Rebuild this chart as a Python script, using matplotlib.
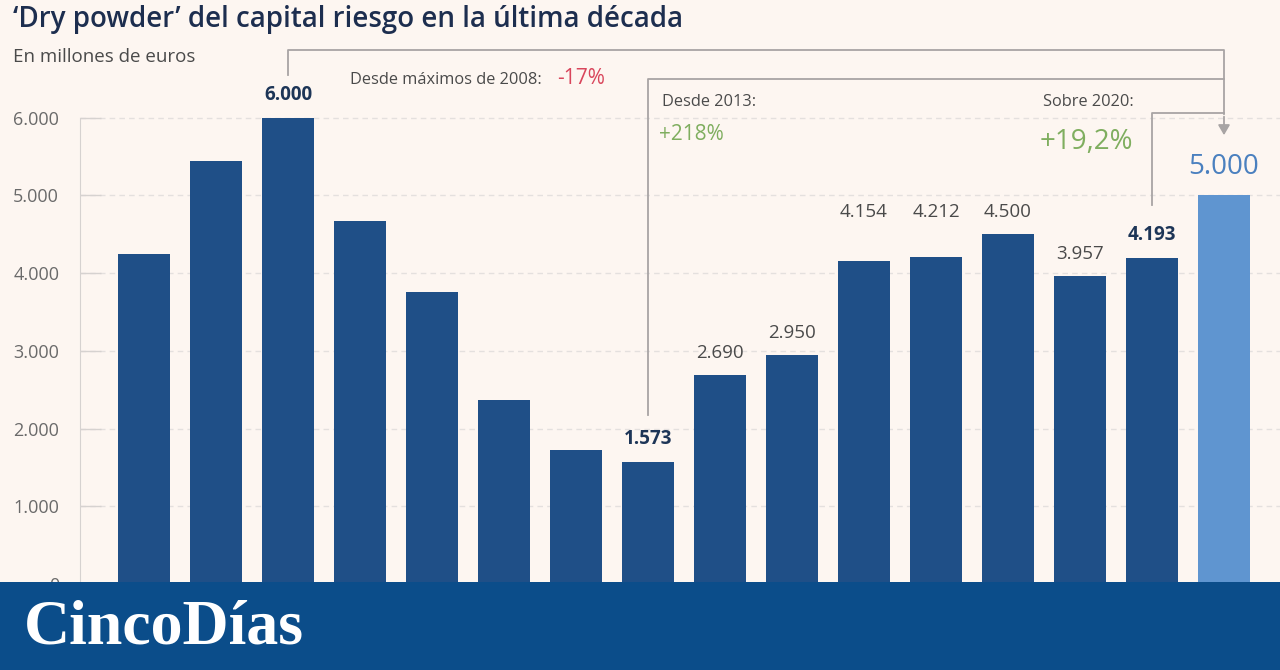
import matplotlib

matplotlib.use("Agg")
import matplotlib.pyplot as plt
from matplotlib.patches import Rectangle

YEARS = list(range(2006, 2022))
VALUES = [4250, 5440, 6000, 4670, 3760, 2370, 1725, 1573, 2690, 2950,
          4154, 4212, 4500, 3957, 4193, 5000]
LABELLED = {2008: "6.000", 2013: "1.573", 2014: "2.690", 2015: "2.950",
            2016: "4.154", 2017: "4.212", 2018: "4.500", 2019: "3.957",
            2020: "4.193"}
BOLD_LABELS = {2008, 2013, 2020}
# labels of 2016-2018 sit on one line, at the height of the tallest of the three
ALIGNED_LABELS = {2016, 2017, 2018}
YTICKS = [0, 1000, 2000, 3000, 4000, 5000, 6000]
YTICK_LABELS = ["0", "1.000", "2.000", "3.000", "4.000", "5.000", "6.000"]

BG = "#fdf6f1"
NAVY = "#1f4f87"
LIGHT = "#5f95d0"
GREY_LINE = "#a8a4a4"
FONT = ["Open Sans", "DejaVu Sans"]

W, H = 1280, 670
fig = plt.figure(figsize=(W / 100, H / 100), dpi=100, facecolor=BG)

# axes placed in pixel terms: x=80..1280, y(top)=40..584
ax = fig.add_axes([80 / W, (H - 584) / H, 1200 / W, 544 / H])
ax.set_facecolor(BG)
ax.set_xlim(-64 / 72, 1136 / 72)
ax.set_ylim(0, 7000)

xs = list(range(len(YEARS)))
colors = [NAVY] * (len(YEARS) - 1) + [LIGHT]
ax.bar(xs, VALUES, width=52 / 72, color=colors, zorder=3)

aligned_top = max(v for y, v in zip(YEARS, VALUES) if y in ALIGNED_LABELS)
for x, year, value in zip(xs, YEARS, VALUES):
    if year in LABELLED:
        bold = year in BOLD_LABELS
        base = aligned_top if year in ALIGNED_LABELS else value
        ax.text(x, base + 170, LABELLED[year], ha="center", va="bottom",
                fontsize=13.5, family=FONT,
                fontweight="bold" if bold else "normal",
                color="#1d3557" if bold else "#4a4a4a", zorder=4)
ax.text(xs[-1], VALUES[-1] + 190, "5.000", ha="center", va="bottom",
        fontsize=20, family=FONT, color="#4a80bf", zorder=4)

ax.set_yticks(YTICKS)
ax.set_yticklabels(YTICK_LABELS, family=FONT, fontsize=13, color="#6a6a6a")
ax.set_xticks([])
ax.tick_params(axis="y", direction="in", length=15, width=1, color="#d6d2d0", pad=15)
for side in ("top", "right", "bottom"):
    ax.spines[side].set_visible(False)
ax.spines["left"].set_color("#d6d2d0")
ax.spines["left"].set_bounds(0, 6000)
ax.grid(axis="y", color="#e4e0de", linestyle=(0, (4, 3)), linewidth=1, zorder=0)

# connector brackets to the 2021 bar
line_kw = dict(color=GREY_LINE, linewidth=1.3, clip_on=False, zorder=2)
ax.plot([2, 2, 15, 15], [6550, 6873, 6873, 6050], **line_kw)
ax.plot([7, 7, 15], [2175, 6500, 6500], **line_kw)
ax.plot([14, 14, 15], [4878, 6062, 6062], **line_kw)
ax.annotate("", xy=(15, 5740), xytext=(15, 6050),
            arrowprops=dict(arrowstyle="-|>,head_width=0.35,head_length=0.6",
                            color=GREY_LINE, lw=1.3), annotation_clip=False)

# annotation texts
fig.text(350 / W, 1 - 80 / H, "Desde máximos de 2008:", family=FONT, fontsize=11.8,
         color="#4a4a4a", va="center")
fig.text(557 / W, 1 - 79 / H, "-17%", family=FONT, fontsize=15, color="#d9465c",
         va="center")
fig.text(662 / W, 1 - 102 / H, "Desde 2013:", family=FONT, fontsize=11.8,
         color="#4a4a4a", va="center")
fig.text(659 / W, 1 - 135 / H, "+218%", family=FONT, fontsize=15, color="#7fae5f",
         va="center")
fig.text(1134 / W, 1 - 102 / H, "Sobre 2020:", family=FONT, fontsize=11.8,
         color="#4a4a4a", va="center", ha="right")
fig.text(1133 / W, 1 - 142 / H, "+19,2%", family=FONT, fontsize=20, color="#7fae5f",
         va="center", ha="right")

# titles
fig.text(13 / W, 1 - 20 / H, "‘Dry powder’ del capital riesgo en la última década",
         family=FONT, fontsize=20, fontweight="semibold", color="#1d2e4f",
         va="center")
fig.text(13 / W, 1 - 57 / H, "En millones de euros", family=FONT, fontsize=13.5,
         color="#4a4a4a", va="center")

# bottom banner with logo
fig.patches.append(Rectangle((0, 0), 1, 88 / H, transform=fig.transFigure,
                             facecolor="#0b4d8a", edgecolor="none", zorder=10))
fig.text(24 / W, 42 / H, "CincoDías", family=["Liberation Serif", "DejaVu Serif"],
         fontsize=46, fontweight="bold", color="white", va="center", zorder=11)

fig.savefig("out.png", dpi=100, facecolor=BG)
